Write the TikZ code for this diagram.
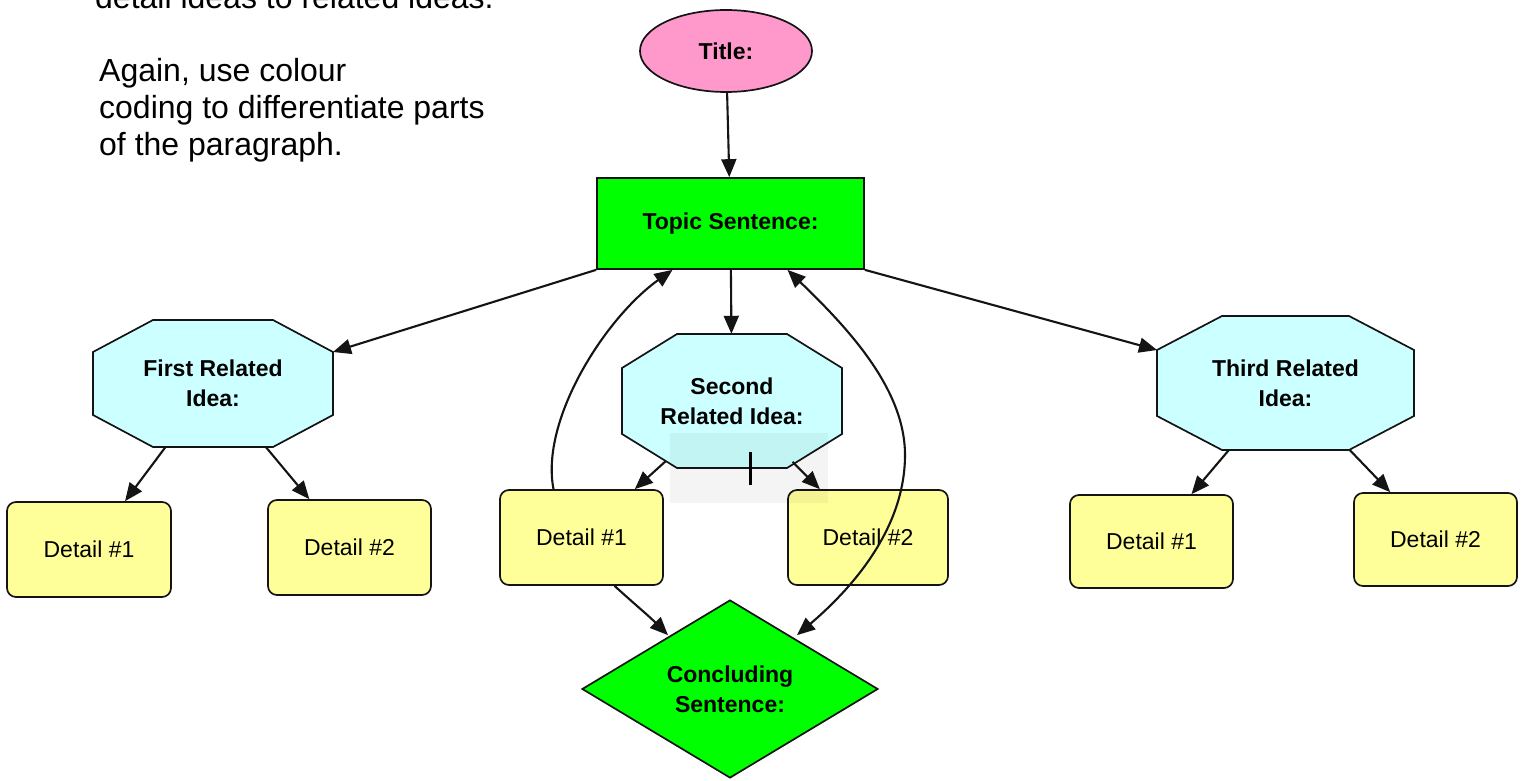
\documentclass[tikz,border=0pt]{standalone}
\usepackage{fontspec}
\setmainfont{Liberation Sans}
\usetikzlibrary{arrows.meta,shapes.geometric,calc}

\definecolor{pinkfill}{HTML}{FF99CC}
\definecolor{greenfill}{HTML}{00FF00}
\definecolor{cyanfill}{HTML}{CCFFFF}
\definecolor{yellowfill}{HTML}{FFFF99}
\definecolor{edgecol}{HTML}{141414}

\newcommand\boldlabel{\fontsize{23}{30}\selectfont\bfseries}
\newcommand\plainlabel{\fontsize{23}{28}\selectfont}

% octagon: name, centre x, centre y, half width, half height, chamfer x, chamfer y, label
\newcommand\octagonnode[8]{%
  \path[ideashape] ({#2-#4+#6},{#3-#5}) -- ({#2+#4-#6},{#3-#5}) -- ({#2+#4},{#3-#5+#7})
    -- ({#2+#4},{#3+#5-#7}) -- ({#2+#4-#6},{#3+#5}) -- ({#2-#4+#6},{#3+#5})
    -- ({#2-#4},{#3+#5-#7}) -- ({#2-#4},{#3-#5+#7}) -- cycle;
  \node[idealabel, minimum width={2*#4}, minimum height={2*#5}] (#1) at (#2,#3) {#8};
  \coordinate (#1-ne) at ({#2+#4},{#3-#5+#7});
  \coordinate (#1-nw) at ({#2-#4},{#3-#5+#7});
}

\tikzset{
  outline/.style={draw=edgecol, line width=1.7pt},
  titleshape/.style={outline, ellipse, fill=pinkfill, minimum width=172pt,
    minimum height=82pt, inner sep=0pt, font=\boldlabel},
  topicshape/.style={outline, rectangle, fill=greenfill, minimum width=267pt,
    minimum height=91pt, inner sep=0pt, font=\boldlabel},
  ideashape/.style={outline, fill=cyanfill, line join=miter},
  idealabel/.style={rectangle, inner sep=0pt, align=center, font=\boldlabel},
  detailbox/.style={outline, rectangle, rounded corners=9pt, fill=yellowfill,
    minimum width=163pt, minimum height=95pt, inner sep=0pt, font=\plainlabel},
  concludeshape/.style={outline, diamond, fill=greenfill, minimum width=296pt,
    minimum height=178pt, inner sep=0pt, align=center, font=\boldlabel},
  tip/.style={Triangle[length=18pt,width=15pt]},
  link/.style={draw=edgecol, line width=2.1pt, -{Triangle[length=18pt,width=15pt]}},
  twoway/.style={draw=edgecol, line width=2.1pt,
    {Triangle[length=18pt,width=15pt]}-{Triangle[length=18pt,width=15pt]}},
  note/.style={anchor=base west, inner sep=0pt, align=left,
    font=\fontsize{32}{36.6}\selectfont}
}

\begin{document}
\begin{tikzpicture}[x=1pt, y=-1pt]
  \useasboundingbox (0,0) rectangle (1526,781);
  \fill[white] (0,0) rectangle (1526,781);

  % instructions
  \node[note] (intro) at (95,8.8) {detail ideas to related ideas.};
  \node[note] (advice) at (99,155.2) {Again, use colour\\coding to differentiate parts\\of the paragraph.};

  % title and topic sentence
  \node[titleshape] (title) at (726,51) {Title:};
  \node[topicshape] (topic) at (730.5,223.5) {Topic Sentence:};

  % related ideas
  \octagonnode{first}{213}{383.5}{120}{63.5}{60}{32}{First Related\\Idea:}
  \octagonnode{second}{732}{401}{110}{67}{55}{34}{Second\\Related Idea:}
  \octagonnode{third}{1285.5}{383}{128.5}{67}{65}{34}{Third Related\\Idea:}

  % details
  \node[detailbox, minimum width=164pt] (a1) at (89,549.5) {Detail \#1};
  \node[detailbox] (a2) at (349.5,547.5) {Detail \#2};
  \node[detailbox] (b1) at (581.5,537.5) {Detail \#1};
  \node[detailbox, minimum width=160pt] (b2) at (868,537.5) {Detail \#2};
  \node[detailbox, minimum height=93pt] (c1) at (1151.5,541.5) {Detail \#1};
  \node[detailbox, minimum height=93pt] (c2) at (1435.5,539.5) {Detail \#2};

  % concluding sentence
  \node[concludeshape] (conclude) at (730,689) {Concluding\\Sentence:};

  % connectors
  \draw[link] (title) -- (topic);
  \draw[link] (topic) -- (second);
  \draw[link] (topic.south west) -- (first-ne);
  \draw[link] (topic.south east) -- (third-nw);

  \draw[link] (first) -- (a1);
  \draw[link] (first) -- (a2);
  \draw[link, shorten <=-10pt] (second) -- (b1);
  \draw[link, shorten <=-9pt] (second) -- (b2);
  \draw[link] (third) -- (c1);
  \draw[link] (third) -- (c2);

  \draw[link] ($(b1.north)+(-28pt,0pt)$) .. controls (540,420) and (605,318) .. ($(topic.south)+(-58pt,0pt)$);
  \draw[link] ($(b1.south)+(33pt,0pt)$) .. controls +(22,20) and +(-20,-20) .. ($(conclude.north)+(-62pt,-36pt)$);
  \draw[twoway] ($(topic.south)+(57pt,0pt)$) .. controls (850,330) and (905,390) .. (905,455)
    .. controls (905,530) and (850,590) .. ($(conclude.north)+(67pt,-36pt)$);

  % selection highlight and text cursor
  \fill[black, fill opacity=0.045] (670,433) rectangle (828,503);
  \fill[black] (749,452) rectangle (752,485);
\end{tikzpicture}
\end{document}
